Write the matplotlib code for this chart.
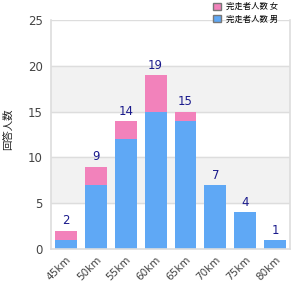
import matplotlib
matplotlib.use("Agg")
import matplotlib.pyplot as plt
import numpy as np

plt.rcParams['font.family'] = ['Noto Sans CJK JP', 'DejaVu Sans']

categories = ["45km", "50km", "55km", "60km", "65km", "70km", "75km", "80km"]
blue_vals = [1, 7, 12, 15, 14, 7, 4, 1]
pink_vals = [1, 2, 2, 4, 1, 0, 0, 0]
series_names = ["完走者人数 女", "完走者人数 男"]
y_label = "回答人数"

blue = "#5fa8f5"
pink = "#f282bb"

fig = plt.figure(figsize=(3, 3), dpi=100)
ax = fig.add_axes([0.17, 0.17, 0.797, 0.763])

x = np.arange(len(categories))
ax.axhspan(5, 10, color="#f2f2f2", zorder=0)
ax.axhspan(15, 20, color="#f2f2f2", zorder=0)
for yv in [5, 10, 15, 20, 25]:
    ax.axhline(yv, color="#dddddd", lw=1, zorder=0.5)

ax.bar(x, blue_vals, width=0.73, color=blue, zorder=2, label=series_names[1])
ax.bar(x, pink_vals, width=0.73, bottom=blue_vals, color=pink, zorder=2, label=series_names[0])
totals = [b + p for b, p in zip(blue_vals, pink_vals)]
for xi, t in zip(x, totals):
    ax.text(xi, t + 0.35, str(t), ha="center", va="bottom", fontsize=8.5, color="#1a1a8c",
            family="DejaVu Sans")

ax.set_xlim(-0.5, len(categories) - 0.5)
ax.set_ylim(0, 25)
ax.set_yticks([0, 5, 10, 15, 20, 25])
ax.set_xticks(x)
ax.set_xticklabels(categories, rotation=45, ha="right", rotation_mode="anchor", fontsize=7.5,
                   color="#444444", family="DejaVu Sans")
for lbl in ax.get_yticklabels():
    lbl.set_family("DejaVu Sans")
ax.tick_params(axis="y", labelsize=8.5, colors="#444444", length=0, pad=6)
ax.tick_params(axis="x", length=0, pad=4)
ax.spines["top"].set_visible(False)
for s in ["left", "bottom", "right"]:
    ax.spines[s].set_color("#dddddd")
    ax.spines[s].set_linewidth(1.2)

fig.text(0.025, 0.57, y_label, rotation=90, ha="center", va="center", fontsize=7.5, color="#222222")

handles, labels = ax.get_legend_handles_labels()
leg = fig.legend(handles[::-1], labels[::-1], loc="upper left", bbox_to_anchor=(0.695, 1.01),
                 frameon=False, fontsize=6, handlelength=0.9, handleheight=0.9,
                 handletextpad=0.6, labelspacing=0.45, borderaxespad=0.2)
for h in leg.legend_handles:
    h.set_edgecolor("#777777")
    h.set_linewidth(1)

fig.savefig("out.png", dpi=100)
